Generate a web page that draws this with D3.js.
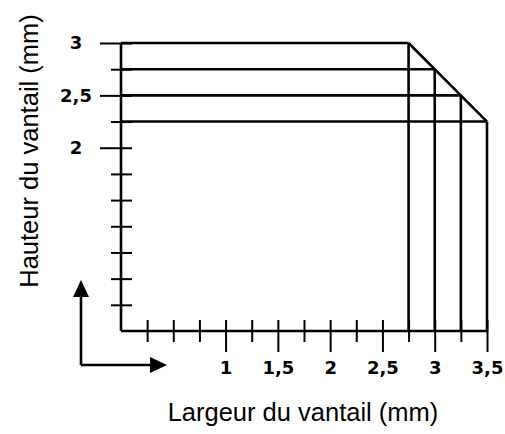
<!DOCTYPE html>
<html>
<head>
<meta charset="utf-8">
<script src="https://cdn.jsdelivr.net/npm/d3@7"></script>
<style>
  body { margin: 0; background: #fff; }
  svg { display: block; }
  .axis-title { font-family: "Liberation Sans", Arial, sans-serif; font-size: 25.5px; fill: #000; }
</style>
</head>
<body>
<svg id="chart" width="505" height="434"></svg>
<script>
// leaf sizes (largeur x hauteur, mm)
const widths = [2.75, 3, 3.25, 3.5];
const heights = [3, 2.75, 2.5, 2.25];

// tick values
const xMajor = [1, 1.5, 2, 2.5, 3, 3.5];
const xMinor = [0.25, 0.5, 0.75, 1.25, 1.75, 2.25, 2.75, 3.25];
const yMajor = [2, 2.5, 3];
const yMinor = [0.5, 0.75, 1, 1.25, 1.5, 1.75, 2.25, 2.75];

const xTitle = 'Largeur du vantail (mm)';
const yTitle = 'Hauteur du vantail (mm)';

const svg = d3.select('#chart');
const fmt = d => String(d).replace('.', ',');

// set the ranges
const x = d3.scaleLinear().domain([0, 3.5]).range([121, 487]);
const y = d3.scaleLinear().domain([0.25, 3]).range([331, 43]);

const y0 = y(0.25);
const x0 = x(0);

// frame lines for each size
const g = svg.append('g')
    .attr('stroke', '#000')
    .attr('stroke-width', 2.6)
    .attr('fill', 'none');

widths.forEach(function(w, i) {
    const h = heights[i];
    // horizontal line from the y axis
    g.append('line')
        .attr('x1', x0).attr('x2', x(w))
        .attr('y1', y(h)).attr('y2', y(h));
    // vertical line down to the x axis
    g.append('line')
        .attr('x1', x(w)).attr('x2', x(w))
        .attr('y1', y(h)).attr('y2', y0);
});

// diagonal limit
g.append('path')
    .attr('d', d3.line().x(d => x(d[0])).y(d => y(d[1]))(
        [[widths[0], heights[0]], [widths[widths.length - 1], heights[heights.length - 1]]]));

// axis lines
g.append('line').attr('x1', x0).attr('x2', x0).attr('y1', y(3)).attr('y2', y0);
g.append('line').attr('x1', x0).attr('x2', x(3.5)).attr('y1', y0).attr('y2', y0);

function styleTicks(sel) {
    sel.select('.domain').remove();
    sel.selectAll('.tick line').attr('stroke', '#000').attr('stroke-width', 2);
}

function styleLabels(sel) {
    sel.select('.domain').remove();
    sel.attr('font-size', null).attr('font-family', null);
    sel.selectAll('.tick text')
        .style('font-family', '"DejaVu Sans", Verdana, sans-serif')
        .style('font-weight', 'bold')
        .style('font-size', '18px')
        .attr('fill', '#000');
}

// x ticks
svg.append('g')
    .attr('transform', `translate(0,${y0 - 11})`)
    .call(d3.axisBottom(x).tickValues(xMajor).tickSize(32).tickFormat(''))
    .call(styleTicks);
svg.append('g')
    .attr('transform', `translate(0,${y0 - 11})`)
    .call(d3.axisBottom(x).tickValues(xMinor).tickSize(22).tickFormat(''))
    .call(styleTicks);
svg.append('g')
    .attr('transform', `translate(0,${y0})`)
    .call(d3.axisBottom(x).tickValues(xMajor).tickSize(0).tickPadding(30).tickFormat(fmt))
    .call(styleLabels);

// y ticks
svg.append('g')
    .attr('transform', `translate(${x0 + 11},0)`)
    .call(d3.axisLeft(y).tickValues(yMajor).tickSize(32).tickFormat(''))
    .call(styleTicks);
svg.append('g')
    .attr('transform', `translate(${x0 + 11},0)`)
    .call(d3.axisLeft(y).tickValues(yMinor).tickSize(21).tickFormat(''))
    .call(styleTicks);
const yLab = svg.append('g')
    .attr('transform', `translate(${x0},0)`)
    .call(d3.axisLeft(y).tickValues(yMajor).tickSize(0).tickFormat(fmt))
    .call(styleLabels);
yLab.selectAll('.tick text')
    .attr('x', -45)
    .attr('text-anchor', 'middle');

// direction arrows
const arr = svg.append('g');
arr.append('path')
    .attr('d', 'M81,365 V296 M81,365 H151')
    .attr('stroke', '#000').attr('stroke-width', 2.6).attr('fill', 'none');
arr.append('path').attr('d', 'M73,297 L89,297 L81,280 Z').attr('fill', '#000');
arr.append('path').attr('d', 'M150,357 L150,373 L167,365 Z').attr('fill', '#000');

// axis titles
svg.append('text')
    .attr('class', 'axis-title')
    .attr('x', 303)
    .attr('y', 421)
    .attr('text-anchor', 'middle')
    .text(xTitle);

svg.append('text')
    .attr('class', 'axis-title')
    .attr('transform', 'translate(38,151) rotate(-90)')
    .attr('text-anchor', 'middle')
    .text(yTitle);
</script>
</body>
</html>
